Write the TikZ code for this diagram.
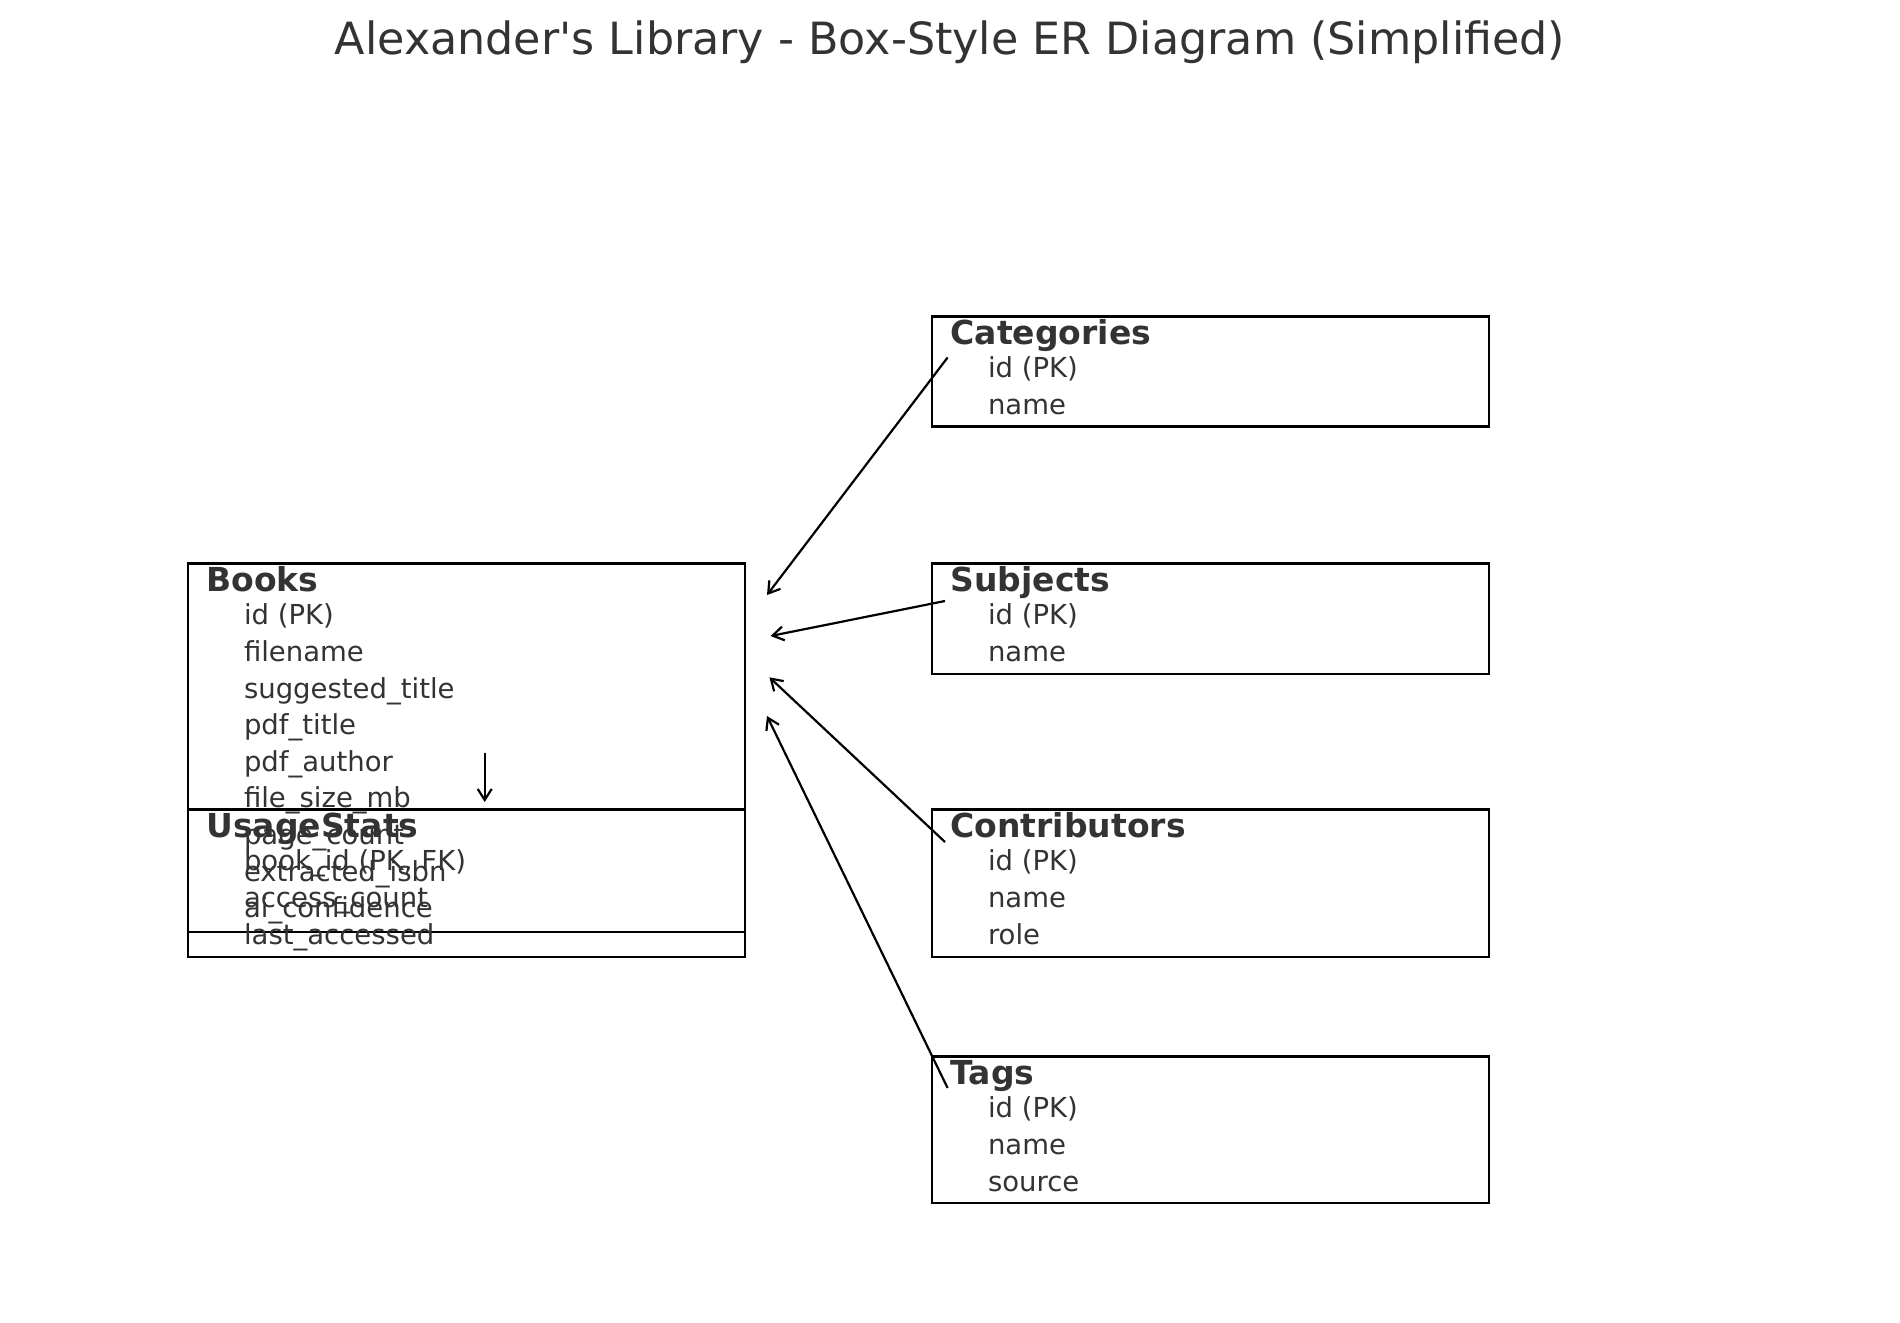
\documentclass[tikz,border=0pt]{standalone}
\usepackage{fontspec}
\setmainfont{DejaVu Sans}
\usetikzlibrary{arrows.meta,calc}
\definecolor{txt}{HTML}{333333}
\begin{document}
\begin{tikzpicture}[x=1pt,y=-1pt,
  box/.style={draw=black,line width=2.4pt,anchor=north west,minimum width=557.4pt,inner sep=0pt,outer sep=0pt},
  hdr/.style={anchor=base west,inner sep=0pt,text=txt,font=\fontsize{33}{33}\selectfont\bfseries},
  fld/.style={anchor=base west,inner sep=0pt,text=txt,font=\fontsize{27.5}{27.5}\selectfont},
  conn/.style={line width=2.2pt,-{Straight Barb[length=11pt,width=14pt,line width=2.2pt]}},
  ttl/.style={inner sep=0pt,text=txt,font=\fontsize{44.4}{44.4}\selectfont}]
\useasboundingbox (0,0) rectangle (1900,1322);

\node[ttl] (title) at (950,42) {Alexander\textquotesingle s Library - Box-Style ER Diagram (Simplified)};

% boxes
\node[box,minimum height=393.8pt] (books) at (187.8,563.4) {};
\node[box,minimum height=122.4pt] (usage) at (187.8,809.4) {};
\node[box,minimum height=110.2pt] (cat) at (931.8,316.3) {};
\node[box,minimum height=110.3pt] (sub) at (931.8,563.4) {};
\node[box,minimum height=147.8pt] (con) at (931.8,809.4) {};
\node[box,minimum height=146.6pt] (tags) at (931.8,1056.6) {};

% headers
\node[hdr] (booksh) at ($(books.north west)+(18.5,28)$) {Books};
\node[hdr] (usageh) at ($(usage.north west)+(18.5,28)$) {UsageStats};
\node[hdr] (cath) at ($(cat.north west)+(18.5,28)$) {Categories};
\node[hdr] (subh) at ($(sub.north west)+(18.5,28)$) {Subjects};
\node[hdr] (conh) at ($(con.north west)+(18.5,28)$) {Contributors};
\node[hdr] (tagsh) at ($(tags.north west)+(18.5,28)$) {Tags};

% fields
\foreach \t [count=\i from 0] in {id (PK),filename,suggested\_title,pdf\_title,pdf\_author,file\_size\_mb,page\_count,extracted\_isbn,ai\_confidence}
  \node[fld] (booksf\i) at ($(books.north west)+(56,61.3+36.65*\i)$) {\t};
\foreach \t [count=\i from 0] in {book\_id (PK{,} FK),access\_count,last\_accessed}
  \node[fld] (usagef\i) at ($(usage.north west)+(56,61.3+36.65*\i)$) {\t};
\foreach \t [count=\i from 0] in {id (PK),name}
  \node[fld] (catf\i) at ($(cat.north west)+(56,61.3+36.65*\i)$) {\t};
\foreach \t [count=\i from 0] in {id (PK),name}
  \node[fld] (subf\i) at ($(sub.north west)+(56,61.3+36.65*\i)$) {\t};
\foreach \t [count=\i from 0] in {id (PK),name,role}
  \node[fld] (conf\i) at ($(con.north west)+(56,61.3+36.65*\i)$) {\t};
\foreach \t [count=\i from 0] in {id (PK),name,source}
  \node[fld] (tagsf\i) at ($(tags.north west)+(56,61.3+36.65*\i)$) {\t};

% connector end points
\coordinate (catT) at ($(cat.north west)+(15.8,41.2)$);
\coordinate (catH) at ($(books.north east)+(21.8,31.6)$);
\coordinate (subT) at ($(sub.north west)+(13.2,37.6)$);
\coordinate (subH) at ($(books.north east)+(25.4,72.6)$);
\coordinate (conT) at ($(con.north west)+(13.2,32.6)$);
\coordinate (conH) at ($(books.north east)+(24.2,113.9)$);
\coordinate (tagsT) at ($(tags.north west)+(15.8,31.4)$);
\coordinate (tagsH) at ($(books.north east)+(21.8,152.6)$);
\coordinate (bkT) at ($(books.north west)+(296.9,189.1)$);
\coordinate (bkH) at ($(usage.north west)+(296.9,-7.4)$);

\draw[conn] (catT) -- (catH);
\draw[conn] (subT) -- (subH);
\draw[conn] (conT) -- (conH);
\draw[conn] (tagsT) -- (tagsH);
\draw[conn] (bkT) -- (bkH);
\end{tikzpicture}
\end{document}
